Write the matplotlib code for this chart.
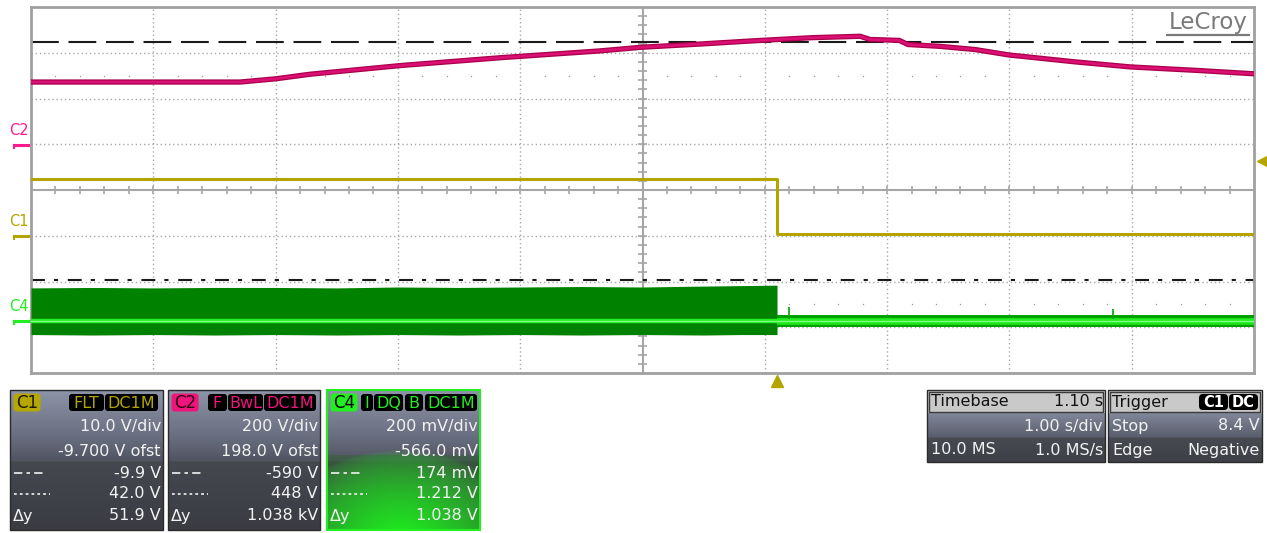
import matplotlib

matplotlib.use("Agg")

import matplotlib.pyplot as plt
import numpy as np
from matplotlib.patches import FancyBboxPatch, Rectangle

plt.rcParams["font.family"] = ["DejaVu Sans"]
plt.rcParams["lines.scale_dashes"] = False

W, H = 1267, 533

# ---- traces, in screen divisions (x: 0..10 from the left, y: -4..4 from centre)
c2_x = [0.0, 1.71, 2.0, 2.28, 3.02, 3.83, 4.65, 4.99, 5.47, 5.9, 6.39, 6.78,
        6.86, 7.1, 7.17, 7.43, 7.72, 8.0, 8.54, 8.99, 9.56, 10.0]
c2_y = [2.36, 2.36, 2.43, 2.53, 2.72, 2.89, 3.04, 3.12, 3.19, 3.26, 3.33, 3.36,
        3.29, 3.27, 3.18, 3.14, 3.07, 2.95, 2.80, 2.69, 2.61, 2.54]

c1_x = [0.0, 6.1, 6.1, 10.0]
c1_y = [0.24, 0.24, -0.97, -0.97]

c4_noise_x = [0.0, 0.5, 1.0, 1.5, 2.0, 2.5, 3.0, 3.5, 4.0, 4.5, 5.0, 5.5, 5.8, 6.1]
c4_noise_top = [-2.14, -2.13, -2.14, -2.13, -2.13, -2.14, -2.12, -2.13, -2.12,
                -2.11, -2.12, -2.10, -2.09, -2.08]
c4_noise_bot = [-3.16, -3.17, -3.16, -3.17, -3.16, -3.17, -3.16, -3.17, -3.16,
                -3.17, -3.16, -3.17, -3.16, -3.16]
c4_quiet_x = [6.1, 10.0]
c4_quiet_top = [-2.73, -2.73]
c4_quiet_bot = [-3.0, -3.0]
c4_level = -2.86
c4_spike_x = [6.2, 8.85]
c4_spike_y = [-2.56, -2.6]

cursor_dashed = 3.235   # 42.0 V on C1
cursor_dashdot = -1.96  # -9.9 V on C1

channel_names = ["C2", "C1", "C4"]
channel_ground = [0.98, -1.0, -2.86]
trig_time = 6.1
trig_level = 0.63

# ---- panel texts
c1_rows = ["10.0 V/div", "-9.700 V ofst", "-9.9 V", "42.0 V", "51.9 V"]
c2_rows = ["200 V/div", "198.0 V ofst", "-590 V", "448 V", "1.038 kV"]
c4_rows = ["200 mV/div", "-566.0 mV", "174 mV", "1.212 V", "1.038 V"]
c1_tags = ["FLT", "DC1M"]
c2_tags = ["F", "BwL", "DC1M"]
c4_tags = ["I", "DQ", "B", "DC1M"]
timebase_rows = [("Timebase", "1.10 s"), ("", "1.00 s/div"), ("10.0 MS", "1.0 MS/s")]
trigger_rows = [("Trigger", ""), ("Stop", "8.4 V"), ("Edge", "Negative")]
trigger_tags = ["C1", "DC"]

C1_COL = "#b3a400"
C2_COL = "#dc0f74"
C4_COL = "#22ee22"
GRID = "#a8a8a8"
TXT = "#f2f2f2"

fig = plt.figure(figsize=(W / 100, H / 100), dpi=100, facecolor="white")

# ---- scope screen
ax = fig.add_axes([31 / W, (H - 373) / H, 1223 / W, 366 / H])
ax.set_xlim(0, 10)
ax.set_ylim(-4, 4)
ax.set_xticks([])
ax.set_yticks([])
for s in ax.spines.values():
    s.set_color("#a0a0a0")
    s.set_linewidth(2)

for gx in range(1, 10):
    if gx != 5:
        ax.axvline(gx, color=GRID, lw=1, ls=(0, (1, 2)), zorder=1)
for gy in range(-3, 4):
    if gy != 0:
        ax.axhline(gy, color=GRID, lw=1, ls=(0, (1, 2)), zorder=1)
ax.axhline(0, color="#a6a6a6", lw=1.5, zorder=1)
ax.axvline(5, color="#a6a6a6", lw=1.5, zorder=1)

minor_x = np.arange(1, 50) * 0.2
minor_y = np.arange(-19, 20) * 0.2
ax.vlines(minor_x, -0.09, 0.09, color="#a6a6a6", lw=1.2, zorder=1)
ax.hlines(minor_y, 4.965, 5.035, color="#a6a6a6", lw=1.2, zorder=1)
dots_x = [v for v in minor_x if abs(v - round(v)) > 0.05]
for yy in (2.5, -2.5):
    ax.plot(dots_x, [yy] * len(dots_x), ls="none", marker="s", ms=0.9,
            mew=0, color="#9a9a9a", zorder=1)

ax.axhline(cursor_dashed, color="#1a1a1a", lw=1.5, dashes=(20, 7), zorder=2)
ax.axhline(cursor_dashdot, color="#1a1a1a", lw=1.5, dashes=(10, 6.5, 3, 7), zorder=2)

# C4
ax.fill_between(c4_noise_x, c4_noise_bot, c4_noise_top, color="#008200", lw=0,
                zorder=3)
ax.fill_between(c4_quiet_x, c4_quiet_bot, c4_quiet_top, color="#00a000", lw=0, zorder=3)
ax.fill_between(c4_quiet_x, [c4_level - 0.08] * 2, [c4_level + 0.06] * 2,
                color="#19dd19", lw=0, zorder=3)
ax.vlines(c4_spike_x, c4_level, c4_spike_y, color="#00a000", lw=1.2, zorder=3)
ax.plot([0, 10], [c4_level, c4_level], color="#22ee22", lw=3.2, zorder=4)
ax.plot([0, 10], [c4_level, c4_level], color="#7dff7d", lw=1.0, zorder=4)

# C1
ax.plot(c1_x, c1_y, color=C1_COL, lw=2.2, zorder=5)

# C2
ax.plot(c2_x, c2_y, color="#a8004a", lw=3.8, zorder=6)
ax.plot(c2_x, c2_y, color=C2_COL, lw=2.0, zorder=6)

# channel ground markers on the left
for name, g, col in zip(channel_names, channel_ground, ["#ff1a8c", C1_COL, "#22ee22"]):
    ax.plot([-0.135, -0.01], [g, g], color=col, lw=2.2, clip_on=False,
            solid_capstyle="butt")
    ax.plot([-0.135, -0.135], [g, g - 0.07], color=col, lw=1.5, clip_on=False)
    ax.text(-0.175, g + 0.15, name, color=col, fontsize=10.5, ha="left",
            va="bottom", clip_on=False)

# trigger markers
ax.plot([trig_time], [-4.17], marker="^", ms=9, color=C1_COL, clip_on=False)
ax.plot([10.07], [trig_level], marker="<", ms=9, color=C1_COL, clip_on=False)

# ---- overlay in pixel coordinates for the readout panels
ov = fig.add_axes([0, 0, 1, 1])
ov.set_xlim(0, W)
ov.set_ylim(H, 0)
ov.axis("off")

ov.text(1208, 23, "LeCroy", fontsize=16.5, color="#7a7a7a", ha="center", va="center")
ov.plot([1167, 1249], [35, 35], color="#7a7a7a", lw=1.6)


def gradient(x0, x1, y0, y1, stops_y, stops_rgb):
    ys = np.arange(y0, y1) + 0.5
    rows = np.stack([np.interp(ys, stops_y, [c[i] for c in stops_rgb])
                     for i in range(3)], axis=-1) / 255.0
    return np.repeat(rows[:, None, :], x1 - x0, axis=1)


CH_STOPS_Y = [390, 413, 440, 461, 462, 530]
CH_STOPS = [(142, 148, 168), (124, 130, 148), (102, 107, 124), (80, 84, 97),
            (70, 72, 80), (58, 60, 66)]


def channel_panel(x0, x1, name, col, name_txt, tags, tag_pos, rows, border, green=False):
    y0, y1 = 390, 530
    img = gradient(x0, x1, y0, y1, CH_STOPS_Y, CH_STOPS)
    if green:
        xx, yy = np.meshgrid(np.arange(x0, x1) + 0.5, np.arange(y0, y1) + 0.5)
        tint = np.where(yy >= 455, 0.4, 0.0)[..., None]
        img = img * (1 - tint) + np.array([40, 100, 40]) / 255.0 * tint
        d = np.sqrt(((xx - 400) / 125.0) ** 2 + ((yy - 540) / 90.0) ** 2)
        t = (np.clip(1 - d, 0, 1) ** 0.6)[..., None]
        img = img * (1 - t) + np.array([30, 240, 30]) / 255.0 * t
    ov.imshow(img, extent=[x0, x1, y1, y0], aspect="auto", interpolation="bilinear",
              zorder=1)
    ov.add_patch(Rectangle((x0, y0), x1 - x0, y1 - y0, fill=False, ec=border,
                           lw=1.5 if green else 1.0, zorder=2))
    ov.add_patch(FancyBboxPatch((x0 + 3.5, 393.5), 27, 18,
                                boxstyle="round,pad=0,rounding_size=3",
                                fc=col, ec="none", zorder=2))
    ov.text(x0 + 17, 403, name, fontsize=12, color=name_txt, ha="center",
            va="center", zorder=3)
    for tag, (tx0, tx1) in zip(tags, tag_pos):
        ov.add_patch(FancyBboxPatch((tx0, 394), tx1 - tx0, 17,
                                    boxstyle="round,pad=0,rounding_size=3",
                                    fc="black", ec="none", zorder=2))
        ov.text((tx0 + tx1) / 2, 403, tag, fontsize=11.5, color=col, ha="center",
                va="center", zorder=3)
    for txt, ry in zip(rows, [427, 451, 473, 494, 516]):
        ov.text(x1 - 2, ry, txt, fontsize=11.5, color=TXT, ha="right",
                va="center", zorder=3)
    ov.plot([x0 + 4, x0 + 36], [473, 473], color=TXT, lw=1.2,
            dashes=(6, 3, 2.5, 3), zorder=3)
    ov.plot([x0 + 4, x0 + 40], [494, 494], color=TXT, lw=1.2, dashes=(2, 2.2), zorder=3)
    ov.text(x0 + 3, 516, "Δy", fontsize=11.5, color=TXT, ha="left", va="center",
            zorder=3)


channel_panel(10, 163, "C1", "#b5a600", "#1a1a00", c1_tags,
              [(69, 104), (105, 158)], c1_rows, "#2a2a2a")
channel_panel(168, 320, "C2", "#f0147d", "#2a0010", c2_tags,
              [(208, 227), (228, 263), (264, 316)], c2_rows, "#2a2a2a")
channel_panel(327, 480, "C4", "#22ee22", "black", c4_tags,
              [(361, 373), (374, 403), (405, 423), (425, 477)], c4_rows, "#22ee22",
              green=True)

INFO_STOPS_Y = [413, 437, 438, 462]
INFO_STOPS = [(130, 136, 154), (90, 94, 108), (72, 74, 82), (62, 64, 70)]


def info_panel(x0, x1, rows, tags=None, tag_pos=None):
    y0, y1 = 390, 462
    img = gradient(x0, x1, 413, y1, INFO_STOPS_Y, INFO_STOPS)
    ov.imshow(img, extent=[x0, x1, y1, 413], aspect="auto", interpolation="bilinear",
              zorder=1)
    ov.add_patch(Rectangle((x0, y0), x1 - x0, 23, fc="#c9c9c9", ec="none", zorder=1))
    ov.add_patch(Rectangle((x0 + 2, y0 + 2), x1 - x0 - 4, 20, fill=False,
                           ec="#3a3a3a", lw=1.0, zorder=2))
    ov.add_patch(Rectangle((x0, y0), x1 - x0, y1 - y0, fill=False, ec="#2a2a2a",
                           lw=1.0, zorder=2))
    for i, ((left, right), ry) in enumerate(zip(rows, [402, 426, 450])):
        col = "#111111" if i == 0 else TXT
        if left:
            ov.text(x0 + 4, ry, left, fontsize=11.5, color=col, ha="left",
                    va="center", zorder=3)
        if right:
            ov.text(x1 - 2, ry, right, fontsize=11.5, color=col, ha="right",
                    va="center", zorder=3)
    if tags:
        for tag, (tx0, tx1) in zip(tags, tag_pos):
            ov.add_patch(FancyBboxPatch((tx0, 394), tx1 - tx0, 16,
                                        boxstyle="round,pad=0,rounding_size=4",
                                        fc="black", ec="none", zorder=3))
            ov.text((tx0 + tx1) / 2, 402.5, tag, fontsize=10.5, color="white",
                    ha="center", va="center", fontweight="bold", zorder=4)


info_panel(927, 1105, timebase_rows)
info_panel(1108, 1262, trigger_rows, trigger_tags, [(1199, 1228), (1229, 1258)])

ov.set_xlim(0, W)
ov.set_ylim(H, 0)

fig.savefig("out.png", dpi=100, facecolor="white")
